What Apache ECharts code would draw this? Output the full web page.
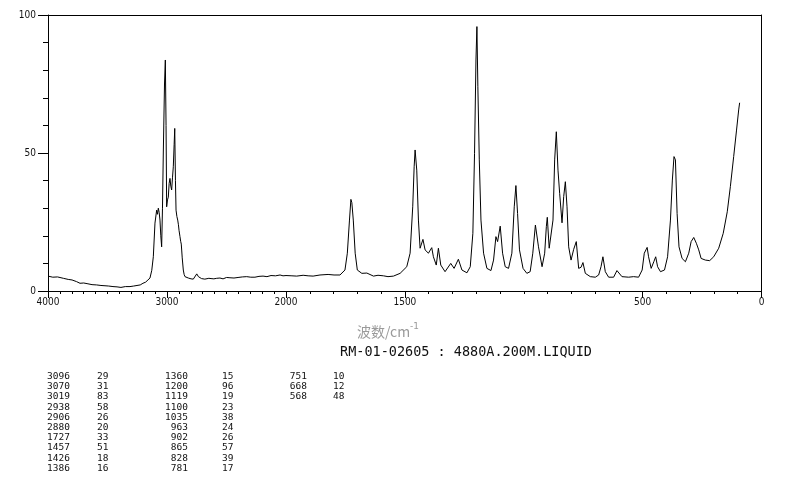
<!DOCTYPE html>
<html>
<head>
<meta charset="utf-8">
<script src="https://cdn.jsdelivr.net/npm/echarts@6/dist/echarts.min.js"></script>
<style>
html,body{margin:0;padding:0;background:#fff;}
#chart{width:794px;height:482px;}
</style>
</head>
<body>
<div id="chart"></div>
<script>
// ---- Spectrum, high-wavenumber part (4000-2000 cm-1, compressed scale) ----
const highWavenumbers = [4000,3960,3920,3871,3830,3798,3760,3731,3700,3664,3630,3591,3555,3521,3490,3454,3420,3387,3350,3311,3280,3252,3225,3202,3180,3160,3143,3128,3115,3101,3087,3080,3073,3066,3059,3052,3045,3038,3031,3021,3014,3008,3003,2996,2989,2982,2975,2968,2961,2954,2947,2940,2935,2929,2924,2917,2910,2904,2899,2891,2885,2880,2876,2872,2863,2856,2849,2835,2821,2810,2798,2787,2779,2765,2750,2736,2723,2710,2698,2682,2666,2648,2630,2606,2582,2555,2529,2500,2471,2437,2403,2367,2330,2296,2261,2227,2193,2160,2126,2088,2050,2025,2000];
const highIntensity   = [5.4,5.0,5.1,4.6,4.2,4.0,3.4,2.8,2.9,2.6,2.3,2.2,2.0,1.9,1.8,1.6,1.5,1.3,1.6,1.6,1.8,2.0,2.2,2.8,3.2,4.0,4.7,7.5,12.4,24.6,29.3,27.8,30.0,28.5,25.7,20.0,16.0,30.0,50.0,75.0,83.7,60.0,30.5,33.0,34.0,39.0,40.8,38.0,36.6,41.0,45.0,53.0,58.9,40.0,29.3,27.0,25.7,24.0,22.0,19.7,18.0,17.0,14.5,12.0,7.6,6.0,5.2,5.0,4.7,4.5,4.4,4.6,4.3,5.0,6.2,5.2,5.0,4.5,4.0,4.3,4.2,4.6,4.5,4.4,4.6,4.7,4.4,4.9,4.8,4.7,4.9,5.1,5.2,5.0,5.0,5.3,5.4,5.2,5.6,5.5,5.8,5.5,5.6];

// ---- Spectrum, low-wavenumber part (2000-0 cm-1, expanded scale) ----
const lowWavenumbers = [2000,1975,1955,1928,1907,1886,1857,1823,1798,1773,1752,1742,1733,1727,1723,1717,1709,1700,1681,1660,1632,1613,1590,1571,1548,1520,1492,1478,1467,1461,1457,1450,1443,1436,1424,1415,1401,1387,1380,1368,1359,1349,1331,1307,1293,1275,1260,1239,1225,1214,1207,1201,1197,1193,1187,1180,1169,1155,1138,1127,1117,1110,1099,1089,1078,1064,1050,1040,1033,1026,1018,1003,987,973,962,951,938,923,912,905,901,893,885,877,870,863,856,849,839,832,825,818,811,801,790,779,769,759,751,741,720,699,685,675,667,657,643,622,608,600,587,559,538,517,502,493,481,475,464,453,445,437,425,408,395,383,375,368,362,355,347,334,320,306,296,285,274,264,254,236,218,201,180,161,144,131,117,105,96,92];
const lowIntensity   = [5.6,5.5,5.4,5.7,5.5,5.4,5.8,6.0,5.8,5.8,7.6,13.7,25.7,33.2,32.0,25.7,13.7,7.6,6.4,6.5,5.4,5.7,5.5,5.2,5.4,6.4,8.8,13.7,30.5,45.0,51.1,43.8,25.7,15.5,18.7,14.9,13.7,15.7,12.4,9.4,15.5,9.4,7.0,10.0,8.2,11.5,7.6,6.6,8.8,20.9,49.9,83.7,95.8,74.0,47.5,25.7,13.7,8.2,7.4,11.2,19.7,17.9,23.5,13.7,8.8,8.2,13.7,30.5,38.2,28.1,14.9,8.2,6.4,7.0,13.7,23.9,16.0,8.8,13.7,23.3,26.7,15.5,16.0,25.7,47.5,57.7,43.8,35.4,24.7,34.2,39.6,30.5,16.0,11.2,15.1,17.9,8.2,8.6,10.3,6.4,5.2,5.0,5.8,8.8,12.4,7.0,5.0,5.0,7.4,7.9,5.2,5.0,5.2,5.0,7.6,13.7,15.8,12.4,8.2,10.6,12.4,8.8,7.0,7.6,12.4,25.7,40.2,48.7,47.5,28.1,16.0,11.8,10.6,13.7,17.9,19.4,17.3,14.9,11.8,11.2,11.0,12.4,15.5,20.9,28.7,37.8,48.7,58.3,65.6,68.2];

// ---- Axis tick labels ----
const highAxisLabels = [4000, 3000, 2000];
const lowAxisLabels = [1500, 500, 0];
const yAxisLabels = [0, 50, 100];

// ---- Peak table ----
const tableWavenumbers = ['3096','3070','3019','2938','2906','2880','1727','1457','1426','1386','1360','1200','1119','1100','1035','963','902','865','828','781','751','668','568'];
const tableIntensities = ['29','31','83','58','26','20','33','51','18','16','15','96','19','23','38','24','26','57','39','17','10','12','48'];

const titleLine = 'RM-01-02605 : 4880A.200M.LIQUID';

const chart = echarts.init(document.getElementById('chart'), null, {renderer: 'canvas'});
const axisFont = "'Liberation Sans Narrow', 'DejaVu Sans Condensed', 'Liberation Sans', sans-serif";
const lineCol = '#000';

function pairs(xs, ys) { return xs.map((x, i) => [x, ys[i]]); }

function minorX(grid, min, max) {
  return {
    type: 'value', gridIndex: grid, position: 'bottom', min: min, max: max, interval: 100, inverse: true,
    axisLine: {show: true, lineStyle: {color: lineCol, width: 1}},
    axisTick: {show: true, length: 3, inside: false, lineStyle: {color: lineCol}},
    axisLabel: {show: false}, splitLine: {show: false}
  };
}
function majorX(grid, min, max, vals) {
  return {
    type: 'value', gridIndex: grid, position: 'bottom', min: min, max: max, inverse: true,
    axisLine: {show: false},
    axisTick: {show: true, length: 7, customValues: vals, lineStyle: {color: lineCol}},
    axisLabel: {show: true, customValues: vals, margin: 6, fontSize: 10, fontFamily: axisFont, color: '#111',
      formatter: v => String(v)},
    splitLine: {show: false}
  };
}
function topX(grid, min, max) {
  return {
    type: 'value', gridIndex: grid, position: 'top', min: min, max: max, inverse: true,
    axisLine: {show: true, lineStyle: {color: lineCol, width: 1}},
    axisTick: {show: false}, axisLabel: {show: false}, splitLine: {show: false}
  };
}

const tableFont = "9.5px 'DejaVu Sans Mono', monospace";
function col(lines, x, align) {
  return {
    type: 'text', x: x, y: 371.5, silent: true,
    style: {text: lines.join('\n'), font: tableFont, fill: '#111', align: align, verticalAlign: 'top', lineHeight: 10.2}
  };
}

const option = {
  animation: false,
  backgroundColor: '#fff',
  grid: [
    {left: 48, top: 15, width: 238, height: 276},
    {left: 286, top: 15, width: 475.5, height: 276}
  ],
  xAxis: [
    minorX(0, 2000, 4000),
    majorX(0, 2000, 4000, highAxisLabels),
    topX(0, 2000, 4000),
    minorX(1, 0, 2000),
    majorX(1, 0, 2000, lowAxisLabels),
    topX(1, 0, 2000)
  ],
  yAxis: [
    {
      type: 'value', gridIndex: 0, position: 'left', min: 0, max: 100, interval: 10,
      axisLine: {show: true, lineStyle: {color: lineCol, width: 1}},
      axisTick: {show: true, length: 5, lineStyle: {color: lineCol}},
      axisLabel: {show: false}, splitLine: {show: false}
    },
    {
      type: 'value', gridIndex: 0, position: 'left', min: 0, max: 100,
      axisLine: {show: false},
      axisTick: {show: true, length: 10, customValues: yAxisLabels, lineStyle: {color: lineCol}},
      axisLabel: {show: true, customValues: yAxisLabels, margin: 12, fontSize: 10, fontFamily: axisFont, color: '#111'},
      splitLine: {show: false}
    },
    {
      type: 'value', gridIndex: 1, position: 'right', min: 0, max: 100,
      axisLine: {show: true, lineStyle: {color: lineCol, width: 1}},
      axisTick: {show: false}, axisLabel: {show: false}, splitLine: {show: false}
    }
  ],
  series: [
    {
      type: 'line', xAxisIndex: 0, yAxisIndex: 0, data: pairs(highWavenumbers, highIntensity),
      showSymbol: false, symbol: 'none', lineStyle: {color: lineCol, width: 1}, silent: true
    },
    {
      type: 'line', xAxisIndex: 3, yAxisIndex: 2, data: pairs(lowWavenumbers, lowIntensity),
      showSymbol: false, symbol: 'none', lineStyle: {color: lineCol, width: 1}, silent: true
    }
  ],
  graphic: [
    {
      type: 'text', x: 357, y: 322, silent: true,
      style: {
        text: '{a|波数/cm}{b|-1}',
        rich: {
          a: {font: "14px 'Noto Sans CJK SC', sans-serif", fill: '#9a9a9a', verticalAlign: 'bottom'},
          b: {font: "9px 'DejaVu Sans', sans-serif", fill: '#9a9a9a', verticalAlign: 'top', padding: [0, 0, 8, 0]}
        }
      }
    },
    {
      type: 'text', x: 340, y: 345, silent: true,
      style: {text: titleLine, font: "13.5px 'DejaVu Sans Mono', monospace", fill: '#111'}
    },
    col(tableWavenumbers.slice(0, 10), 70, 'right'),
    col(tableIntensities.slice(0, 10), 97, 'left'),
    col(tableWavenumbers.slice(10, 20), 188, 'right'),
    col(tableIntensities.slice(10, 20), 222, 'left'),
    col(tableWavenumbers.slice(20), 307, 'right'),
    col(tableIntensities.slice(20), 333, 'left')
  ]
};
chart.setOption(option);
</script>
</body>
</html>
